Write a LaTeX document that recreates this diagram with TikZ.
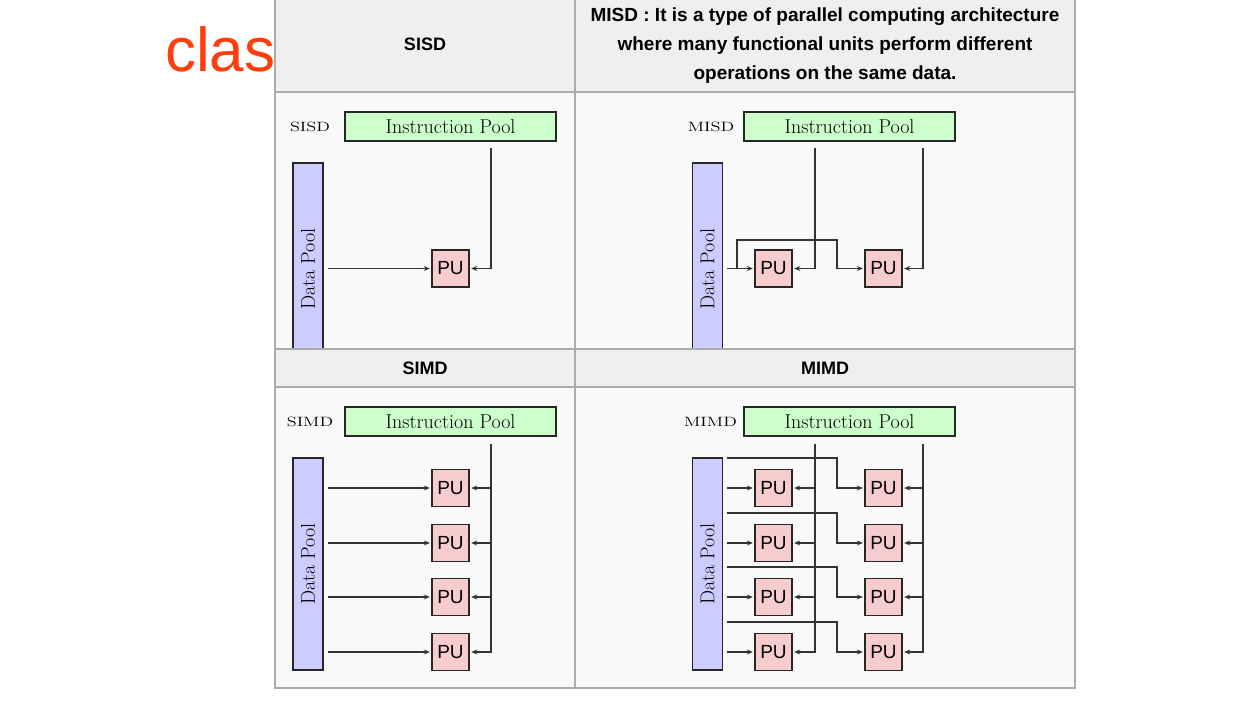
\documentclass[tikz,border=0pt]{standalone}
\usepackage{fontspec}
\newfontfamily\sansfam{Liberation Sans}
\usetikzlibrary{arrows.meta}

\definecolor{hdrgray}{HTML}{EFEFEF}
\definecolor{cellgray}{HTML}{F9F9F9}
\definecolor{rulegray}{HTML}{ABABAB}
\definecolor{ipgreen}{HTML}{CCFFCC}
\definecolor{dpblue}{HTML}{CCCCFF}
\definecolor{pured}{HTML}{F6CCCC}
\definecolor{titlered}{HTML}{FF3D0D}
\definecolor{wirecol}{HTML}{333333}

\newcommand{\widetag}[1]{\scalebox{1.35}[1]{#1}}

\begin{document}
\begin{tikzpicture}[x=1pt, y=-1pt,
		pool/.style={draw=black!85, line width=1.4pt, inner sep=0pt},
		ipool/.style={pool, fill=ipgreen, minimum width=211pt, minimum height=29pt,
			font=\fontsize{20}{22}\selectfont},
		dpool/.style={pool, fill=dpblue, minimum width=30pt, minimum height=212pt,
			font=\fontsize{20}{22}\selectfont},
		pu/.style={pool, fill=pured, minimum width=37pt, minimum height=37pt,
			font=\sansfam\fontsize{19}{22}\selectfont},
		tag/.style={inner sep=0pt, font=\fontsize{13.5}{15}\selectfont},
		hdr/.style={inner sep=0pt, font=\sansfam\bfseries\fontsize{18}{29}\selectfont},
		wire/.style={draw=wirecol, line width=1.5pt},
		feed/.style={wire, -{Stealth[length=6pt,width=5pt]}, shorten >=1.5pt}]
		\useasboundingbox[fill=white] (0,0) rectangle (1254,706);
		\node[anchor=base west, inner sep=0pt, text=titlered, font=\sansfam\fontsize{62}{70}\selectfont] (title) at (165,72) {clas};

		% cells
		\fill[cellgray] (275,92) rectangle (1075,688);
		\fill[hdrgray] (275,0) rectangle (1075,92);

		\begin{scope}
			\node[tag] (t-SISD) at (310,127) {\widetag{SISD}};
			\node[ipool] (ip-SISD) at (450.5,126.5) {Instruction Pool};
			\node[dpool] (dp-SISD) at (308,269) {\rotatebox{90}{Data Pool}};
			\node[pu] (pu-SISD) at (450.5,268.5) {PU};
			\coordinate (iv-SISD) at (491,148);
			\draw[feed] ([xshift=4pt]dp-SISD.east |- pu-SISD.west) -- (pu-SISD.west);
			\draw[feed] (iv-SISD) |- (pu-SISD.east);
		\end{scope}

		\begin{scope}[shift={(400,0)}]
			\node[tag] (t-MISD) at (311,127) {\widetag{MISD}};
			\node[ipool] (ip-MISD) at (449.5,126.5) {Instruction Pool};
			\node[dpool] (dp-MISD) at (307.5,269) {\rotatebox{90}{Data Pool}};
			\node[pu] (pu-1-MISD) at (373.5,268.5) {PU};
			\node[pu] (pu-2-MISD) at (483.5,268.5) {PU};
			\coordinate (iv-1-MISD) at (415,148);
			\coordinate (iv-2-MISD) at (523,148);
			\coordinate (br-MISD) at (337,268.5);
			\draw[feed] ([xshift=4pt]dp-MISD.east |- pu-1-MISD.west) -- (pu-1-MISD.west);
			\draw[feed] (br-MISD) -- (337,240) -| (437,268.5) -- (pu-2-MISD.west);
			\draw[feed] (iv-1-MISD) |- (pu-1-MISD.east);
			\draw[feed] (iv-2-MISD) |- (pu-2-MISD.east);
		\end{scope}

		\begin{scope}[shift={(0,295)}]
			\node[tag] (t-SIMD) at (310,127) {\widetag{SIMD}};
			\node[ipool] (ip-SIMD) at (450.5,126.5) {Instruction Pool};
			\node[dpool] (dp-SIMD) at (308,269) {\rotatebox{90}{Data Pool}};
			\foreach \i/\y in {1/193,2/248,3/302,4/357}
				\node[pu] (pu-\i-SIMD) at (450.5,\y) {PU};
			\coordinate (iv-SIMD) at (491,149);
			\draw[feed] (iv-SIMD) |- (pu-4-SIMD.east);
			\foreach \i in {1,2,3}
				\draw[feed] (iv-SIMD |- pu-\i-SIMD.east) -- (pu-\i-SIMD.east);
			\foreach \i in {1,...,4}
				\draw[feed] ([xshift=4pt]dp-SIMD.east |- pu-\i-SIMD.west) -- (pu-\i-SIMD.west);
		\end{scope}

		\begin{scope}[shift={(400,295)}]
			\node[tag] (t-MIMD) at (310.5,127) {\widetag{MIMD}};
			\node[ipool] (ip-MIMD) at (449.5,126.5) {Instruction Pool};
			\node[dpool] (dp-MIMD) at (307.5,269) {\rotatebox{90}{Data Pool}};
			\coordinate (iv-1-MIMD) at (415,149);
			\coordinate (iv-2-MIMD) at (523,149);
			\foreach \i/\y in {1/193,2/248,3/302,4/357} {
				\node[pu] (pu-\i-1-MIMD) at (373.5,\y) {PU};
				\node[pu] (pu-\i-2-MIMD) at (483.5,\y) {PU};
				\draw[feed] ([xshift=4pt]dp-MIMD.east |- pu-\i-1-MIMD.west) -- (pu-\i-1-MIMD.west);
				\draw[feed] ([xshift=4pt]dp-MIMD.east |- 0,\y-30) -| (437,\y) -- (pu-\i-2-MIMD.west);
			}
			\draw[feed] (iv-1-MIMD) |- (pu-4-1-MIMD.east);
			\draw[feed] (iv-2-MIMD) |- (pu-4-2-MIMD.east);
			\foreach \i in {1,2,3} {
				\draw[feed] (iv-1-MIMD |- pu-\i-1-MIMD.east) -- (pu-\i-1-MIMD.east);
				\draw[feed] (iv-2-MIMD |- pu-\i-2-MIMD.east) -- (pu-\i-2-MIMD.east);
			}
		\end{scope}

		% header rows and rules
		\fill[hdrgray] (275,349) rectangle (1075,387);
		\draw[rulegray, line width=1.2pt] (275,0) -- (275,688) -- (1075,688) -- (1075,0)
			(575,0) -- (575,688) (275,92) -- (1075,92) (275,349) -- (1075,349) (275,387) -- (1075,387);
		\node[hdr] (h-SISD) at (425,44) {SISD};
		\node[hdr, align=center, font=\sansfam\bfseries\fontsize{19}{29}\selectfont] (h-MISD) at (825,46) {MISD : It is a type of parallel computing architecture\\
			where many functional units perform different\\operations on the same data.};
		\node[hdr] (h-SIMD) at (425,368) {SIMD};
		\node[hdr] (h-MIMD) at (825,368) {MIMD};
	\end{tikzpicture}
\end{document}
